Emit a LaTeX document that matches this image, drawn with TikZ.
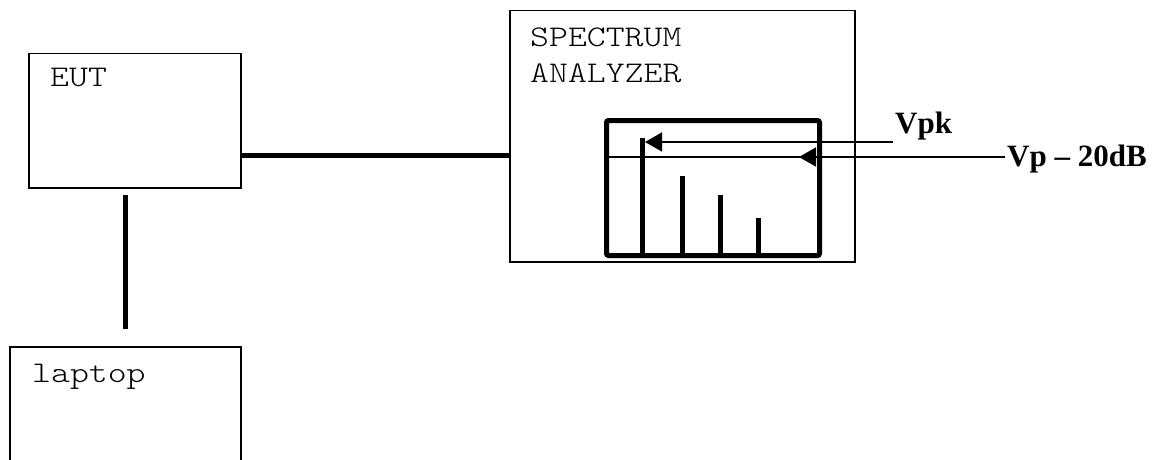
\documentclass[tikz,border=0pt]{standalone}
\usepackage{fontspec}
\setmainfont{Liberation Serif}
\setmonofont[FakeStretch=1.2]{lmmonolt10-regular.otf}
\usetikzlibrary{arrows.meta}
\begin{document}
\begin{tikzpicture}[x=1pt,y=-1pt,
  box/.style={draw,line width=1.5pt,inner sep=0pt,anchor=north west},
  mono/.style={font=\ttfamily\fontsize{30}{35}\selectfont,inner sep=0pt,anchor=base west},
  boldlbl/.style={font=\bfseries\fontsize{31}{35}\selectfont,inner sep=0pt,anchor=base west},
  cable/.style={line width=5pt},
  bar/.style={line width=5pt},
  thin/.style={line width=1.5pt},
  tip/.style={-{Triangle[length=17pt,width=19pt]}}]
\useasboundingbox (0,0) rectangle (1160,460);
% boxes
\node[box,minimum width=212pt,minimum height=134pt] (eut) at (28,53) {};
\node[box,minimum width=231pt,minimum height=130pt] (laptop) at (9,346) {};
\node[box,minimum width=345pt,minimum height=251pt] (sa) at (509,10) {};
\node[draw,line width=5pt,rounded corners=2pt,inner sep=0pt,anchor=north west,
      minimum width=213pt,minimum height=135pt] (disp) at (604,118) {};
% texts
\node[mono] (teut) at (50,87) {EUT};
\node[mono] (tsa1) at (530,47) {SPECTRUM};
\node[mono] (tsa2) at (530,82) {ANALYZER};
\node[mono] (tlap) at (32,382) {laptop};
\node[boldlbl] (vpk) at (895,133) {Vpk};
\node[boldlbl] (vp20) at (1007,166) {Vp -- 20dB};
% cables
\coordinate (c1) at (eut.east |- 0,155);
\draw[cable] (c1) -- (sa.west |- c1);
\coordinate (v1) at (125,195);
\coordinate (v2) at (125,329);
\draw[cable] (v1) -- (v2);
% display contents
\coordinate (h0) at (disp.west |- 0,157);
\coordinate (h1) at (1005,157);
\coordinate (h2) at (799,157);
\draw[line width=2pt] (h0) -- (h1);
\draw[thin,tip] (h1) -- (h2);
\coordinate (a0) at (893,142);
\coordinate (a1) at (645,142);
\draw[thin,tip] (a0) -- (a1);
\coordinate (b1t) at (642,138); \coordinate (b1b) at (642,253);
\coordinate (b2t) at (682,176); \coordinate (b2b) at (682,253);
\coordinate (b3t) at (720,195); \coordinate (b3b) at (720,253);
\coordinate (b4t) at (758,218); \coordinate (b4b) at (758,256);
\draw[bar] (b1b) -- (b1t);
\draw[bar] (b2b) -- (b2t);
\draw[bar] (b3b) -- (b3t);
\draw[bar] (b4b) -- (b4t);
\end{tikzpicture}
\end{document}
